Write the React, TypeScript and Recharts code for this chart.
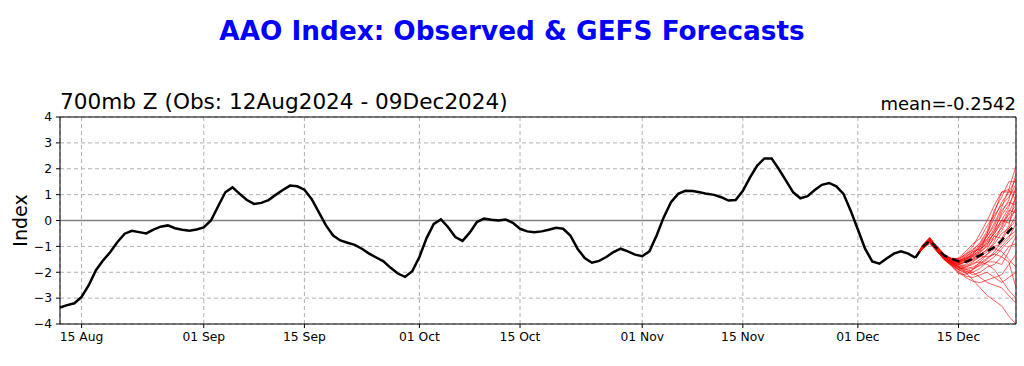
import { LineChart, Line, XAxis, YAxis, CartesianGrid, ReferenceLine } from "recharts";

// days counted from 12 Aug 2024 (day 0); obs ends 09 Dec (day 119), forecast to day 133
const obsIndex = [
  -3.36, -3.27, -3.2, -2.95, -2.5, -1.92, -1.54, -1.22, -0.83, -0.51,
  -0.4, -0.45, -0.5, -0.35, -0.24, -0.19, -0.3, -0.36, -0.4, -0.35,
  -0.27, 0.0, 0.55, 1.09, 1.28, 1.03, 0.79, 0.64, 0.68, 0.79,
  0.99, 1.18, 1.35, 1.32, 1.19, 0.83, 0.32, -0.19, -0.58, -0.77,
  -0.86, -0.94, -1.09, -1.28, -1.43, -1.58, -1.83, -2.05, -2.18, -1.96,
  -1.41, -0.68, -0.13, 0.04, -0.26, -0.64, -0.79, -0.47, -0.06, 0.08,
  0.03, 0.0, 0.04, -0.09, -0.32, -0.42, -0.45, -0.42, -0.36, -0.28,
  -0.32, -0.58, -1.09, -1.45, -1.63, -1.56, -1.41, -1.22, -1.09, -1.19,
  -1.32, -1.38, -1.19, -0.58, 0.13, 0.71, 1.03, 1.15, 1.14, 1.09,
  1.03, 0.99, 0.9, 0.77, 0.79, 1.15, 1.67, 2.12, 2.4, 2.4,
  1.99, 1.54, 1.09, 0.86, 0.94, 1.18, 1.38, 1.45, 1.32, 1.03,
  0.38, -0.35, -1.09, -1.58, -1.67, -1.47, -1.28, -1.19, -1.28, -1.44,
];

const fcstStart = 119;

const ensMean = [-1.44, -1.03, -0.77, -1.09, -1.35, -1.47, -1.58, -1.6, -1.47, -1.35, -1.19, -1.03, -0.77, -0.42, -0.13];

const members = [
  [-1.44, -1.0, -0.7, -1.0, -1.3, -1.5, -1.6, -1.5, -1.3, -1.0, -0.6, -0.1, 0.5, 1.2, 2.1],
  [-1.44, -1.05, -0.8, -1.1, -1.4, -1.6, -1.7, -1.6, -1.5, -1.2, -0.5, 0.3, 1.1, 1.1, 1.6],
  [-1.44, -0.95, -0.65, -1.05, -1.35, -1.45, -1.5, -1.3, -1.0, -0.5, 0.0, 0.6, 1.1, 1.2, 0.8],
  [-1.44, -1.1, -0.85, -1.2, -1.5, -1.7, -1.9, -2.0, -1.9, -1.7, -1.5, -1.2, -0.8, -0.3, 0.2],
  [-1.44, -1.0, -0.75, -1.15, -1.45, -1.65, -1.8, -2.0, -2.3, -2.6, -2.9, -3.1, -3.3, -3.7, -4.0],
  [-1.44, -1.05, -0.8, -1.1, -1.4, -1.6, -1.8, -1.9, -2.0, -2.2, -2.4, -2.5, -2.6, -2.9, -3.2],
  [-1.44, -1.0, -0.7, -1.0, -1.3, -1.55, -1.6, -1.4, -1.2, -1.1, -0.9, -0.6, -0.3, 0.3, 0.9],
  [-1.44, -0.98, -0.72, -1.05, -1.4, -1.6, -1.75, -1.8, -1.7, -1.5, -1.3, -1.0, -0.9, -0.6, -0.4],
  [-1.44, -1.02, -0.78, -1.12, -1.38, -1.5, -1.45, -1.2, -0.9, -0.7, -0.2, 0.2, 0.6, 0.9, 1.4],
  [-1.44, -1.08, -0.82, -1.18, -1.5, -1.75, -2.05, -2.1, -1.9, -1.6, -1.3, -1.1, -1.2, -1.5, -1.8],
  [-1.44, -1.0, -0.74, -1.08, -1.4, -1.62, -1.7, -1.6, -1.55, -1.4, -1.2, -0.8, -0.2, 0.4, 0.3],
  [-1.44, -1.06, -0.76, -1.14, -1.46, -1.68, -1.85, -1.95, -2.1, -2.0, -1.8, -1.7, -1.4, -1.0, -0.9],
  [-1.44, -0.97, -0.68, -1.0, -1.32, -1.5, -1.55, -1.45, -1.35, -1.1, -0.8, -0.5, -0.1, 0.2, 0.6],
  [-1.44, -1.03, -0.8, -1.1, -1.42, -1.62, -1.78, -1.7, -1.5, -1.35, -1.1, -0.6, -0.7, -0.2, 1.0],
  [-1.44, -1.1, -0.9, -1.2, -1.5, -1.72, -1.95, -2.15, -2.2, -2.1, -2.0, -2.2, -2.4, -2.2, -2.0],
  [-1.44, -1.0, -0.72, -1.06, -1.34, -1.48, -1.52, -1.35, -1.1, -0.9, -0.5, 0.1, 0.7, 1.1, 1.1],
  [-1.44, -1.04, -0.77, -1.12, -1.44, -1.64, -1.7, -1.75, -1.6, -1.4, -1.4, -1.3, -1.0, -0.7, -0.1],
  [-1.44, -1.02, -0.75, -1.1, -1.4, -1.58, -1.66, -1.55, -1.4, -1.25, -0.95, -0.4, 0.0, -0.1, 0.5],
  [-1.44, -1.07, -0.83, -1.15, -1.48, -1.7, -1.88, -1.8, -1.65, -1.6, -1.7, -1.9, -2.3, -2.7, -3.0],
  [-1.44, -0.99, -0.7, -1.03, -1.36, -1.54, -1.62, -1.48, -1.3, -1.0, -0.7, -0.4, 0.3, 0.8, 1.8],
  [-1.44, -1.01, -0.73, -1.07, -1.38, -1.57, -1.64, -1.52, -1.38, -1.2, -1.0, -0.7, -0.4, 0.1, 0.4],
  [-1.44, -1.06, -0.79, -1.13, -1.47, -1.69, -1.9, -2.05, -2.0, -1.85, -1.6, -1.4, -1.1, -0.8, -0.5],
  [-1.44, -0.96, -0.66, -1.02, -1.33, -1.47, -1.48, -1.3, -1.15, -0.85, -0.4, 0.4, 0.9, 1.5, 1.5],
  [-1.44, -1.04, -0.78, -1.1, -1.45, -1.66, -1.82, -1.9, -1.85, -1.75, -1.6, -1.6, -1.7, -1.2, -0.6],
  [-1.44, -1.0, -0.71, -1.04, -1.37, -1.55, -1.58, -1.45, -1.25, -1.05, -0.75, -0.3, 0.2, 0.6, 1.2],
  [-1.44, -1.09, -0.86, -1.19, -1.52, -1.74, -2.0, -2.2, -2.35, -2.4, -2.3, -2.2, -2.1, -1.7, -1.3],
  [-1.44, -1.03, -0.76, -1.11, -1.41, -1.6, -1.68, -1.6, -1.45, -1.3, -1.15, -0.9, -0.5, -0.3, 0.0],
  [-1.44, -0.98, -0.69, -1.01, -1.31, -1.49, -1.56, -1.4, -1.2, -0.95, -0.6, -0.2, 0.4, 0.7, 0.6],
  [-1.44, -1.05, -0.81, -1.16, -1.46, -1.66, -1.78, -1.85, -1.8, -1.65, -1.45, -1.3, -1.4, -1.6, -2.6],
  [-1.44, -1.02, -0.74, -1.09, -1.39, -1.56, -1.63, -1.5, -1.35, -1.15, -0.85, -0.5, 0.0, 0.5, 1.3],
];

const xTickDays = [3, 20, 34, 50, 64, 81, 95, 111, 125];
const xTickLabels = ["15 Aug", "01 Sep", "15 Sep", "01 Oct", "15 Oct", "01 Nov", "15 Nov", "01 Dec", "15 Dec"];
const yTicks = [-4, -3, -2, -1, 0, 1, 2, 3, 4];

const lastDay = fcstStart + ensMean.length - 1;

const data = Array.from({ length: lastDay + 1 }, (_, d) => {
  const row: Record<string, number> = { day: d };
  if (d < obsIndex.length) row.obs = obsIndex[d];
  if (d >= fcstStart) {
    row.mean = ensMean[d - fcstStart];
    members.forEach((m, i) => {
      row["m" + i] = m[d - fcstStart];
    });
  }
  return row;
});

const font = "DejaVu Sans, sans-serif";

export default function App() {
  return (
    <div style={{ position: "absolute", left: 0, top: 0, width: 1024, height: 366, background: "#fff", fontFamily: font }}>
      <div style={{ position: "absolute", top: 16, left: 0, width: 1024, textAlign: "center", color: "#0000ff", fontWeight: "bold", fontSize: 26.3 }}>
        AAO Index: Observed &amp; GEFS Forecasts
      </div>
      <div style={{ position: "absolute", top: 89, left: 60, fontSize: 21.6, color: "#000", whiteSpace: "nowrap" }}>
        700mb Z (Obs: 12Aug2024 - 09Dec2024)
      </div>
      <div style={{ position: "absolute", top: 93, right: 8, fontSize: 18, color: "#000", whiteSpace: "nowrap" }}>
        mean=-0.2542
      </div>
      <LineChart width={1024} height={366} data={data} margin={{ top: 117, right: 8, bottom: 12, left: 0 }}>
        <CartesianGrid stroke="#b0b0b0" strokeDasharray="4 3" />
        <XAxis
          dataKey="day"
          type="number"
          domain={[0, lastDay]}
          ticks={xTickDays}
          tickFormatter={(v) => xTickLabels[xTickDays.indexOf(v)]}
          tick={{ fill: "#000", fontSize: 12.3, fontFamily: font, dy: 2 }}
          axisLine={{ stroke: "#000" }}
          tickLine={{ stroke: "#000" }}
          tickSize={4}
          height={30}
        />
        <YAxis
          type="number"
          domain={[-4, 4]}
          ticks={yTicks}
          allowDataOverflow
          tickFormatter={(v) => (v < 0 ? "\u2212" + Math.abs(v) : String(v))}
          tick={{ fill: "#000", fontSize: 12.3, fontFamily: font, dx: -2 }}
          axisLine={{ stroke: "#000" }}
          tickLine={{ stroke: "#000" }}
          tickSize={4}
          width={60}
          label={{ value: "Index", angle: -90, position: "insideLeft", offset: 20, style: { fontSize: 19, fill: "#000", fontFamily: font, textAnchor: "middle" } }}
        />
        <ReferenceLine y={0} stroke="#808080" strokeWidth={1.5} />
        <ReferenceLine y={4} stroke="#000" />
        <ReferenceLine x={lastDay} stroke="#000" />
        {members.map((_, i) => (
          <Line
            key={i}
            dataKey={"m" + i}
            stroke="#ff0000"
            strokeWidth={0.9}
            strokeOpacity={0.7}
            dot={false}
            isAnimationActive={false}
          />
        ))}
        <Line dataKey="obs" stroke="#000" strokeWidth={2.5} dot={false} isAnimationActive={false} />
        <Line dataKey="mean" stroke="#000" strokeWidth={2.5} strokeDasharray="8 5" dot={false} isAnimationActive={false} />
      </LineChart>
    </div>
  );
}
